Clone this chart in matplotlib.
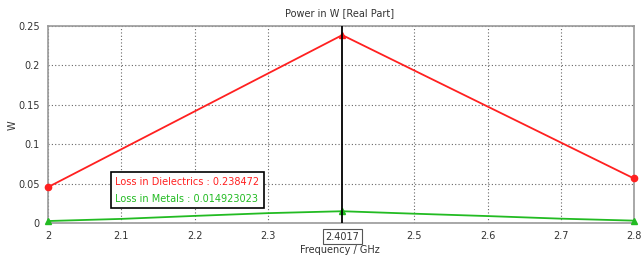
import matplotlib.pyplot as plt

freq = [2.0, 2.4017, 2.8]
loss_diel = [0.0455, 0.238472, 0.0565]
freq_m = [2.0, 2.1, 2.2, 2.3, 2.4017, 2.5, 2.6, 2.7, 2.8]
loss_metal = [0.0025, 0.0052, 0.0090, 0.0125, 0.014923, 0.0118, 0.0088, 0.0055, 0.003]
marker_x = 2.4017
xticks = [2, 2.1, 2.2, 2.3, 2.5, 2.6, 2.7, 2.8]
xticklabels = ['2', '2.1', '2.2', '2.3', '2.5', '2.6', '2.7', '2.8']
yticks = [0, 0.05, 0.1, 0.15, 0.2, 0.25]
yticklabels = ['0', '0.05', '0.1', '0.15', '0.2', '0.25']

plt.rcParams['font.family'] = 'DejaVu Sans'
fig = plt.figure(figsize=(6.44, 2.59), dpi=100)
ax = fig.add_axes([48/644, 1-223/259, (634-48)/644, (223-26)/259])

red = '#ff2020'
green = '#22bb22'
txt = '#333333'
ax.plot(freq, loss_diel, color=red, lw=1.3, zorder=3)
ax.plot([freq[0], freq[2]], [loss_diel[0], loss_diel[2]], 'o', color=red, ms=4.5, zorder=4, clip_on=False)
ax.plot([marker_x], [loss_diel[1]], '^', color=red, ms=5, zorder=4)
ax.plot(freq_m, loss_metal, color=green, lw=1.3, zorder=3)
ax.plot([freq_m[0], freq_m[-1], marker_x], [loss_metal[0], loss_metal[-1], loss_metal[4]], '^',
        color=green, ms=5, zorder=4, clip_on=False)

ax.axvline(marker_x, color='black', lw=1.3, zorder=5)

ax.set_xlim(2, 2.8)
ax.set_ylim(0, 0.25)
ax.set_xticks(xticks)
ax.set_xticklabels(xticklabels)
ax.set_yticks(yticks)
ax.set_yticklabels(yticklabels)
ax.tick_params(length=0, labelsize=7, colors=txt, pad=6)
ax.grid(True, linestyle=(0, (1, 2)), color='#666666', lw=0.8)
for s in ax.spines.values():
    s.set_color('#999999')
    s.set_linewidth(1.2)

fig.text(340/644, 1-13/259, 'Power in W [Real Part]', fontsize=7, color=txt, ha='center', va='center')
fig.text(340/644, 1-250/259, 'Frequency / GHz', fontsize=7, color=txt, ha='center', va='center')
fig.text(13/644, 1-125/259, 'W', fontsize=7, color=txt, ha='center', va='center', rotation=90)

ax.text(marker_x, -0.0175, '2.4017', ha='center', va='center', fontsize=7, color=txt,
        transform=ax.transData, clip_on=False,
        bbox=dict(boxstyle='square,pad=0.25', fc='white', ec='#555555', lw=0.8))

ax.text(0.115, 0.235, 'Loss in Dielectrics : 0.238472\n', transform=ax.transAxes,
        fontsize=7, color=red, va='top', linespacing=1.9,
        bbox=dict(boxstyle='square,pad=0.45', fc='white', ec='black', lw=1.2), zorder=6)
ax.text(0.115, 0.235, '\nLoss in Metals : 0.014923023', transform=ax.transAxes,
        fontsize=7, color=green, va='top', linespacing=1.9, zorder=7)

fig.savefig('out.png')
